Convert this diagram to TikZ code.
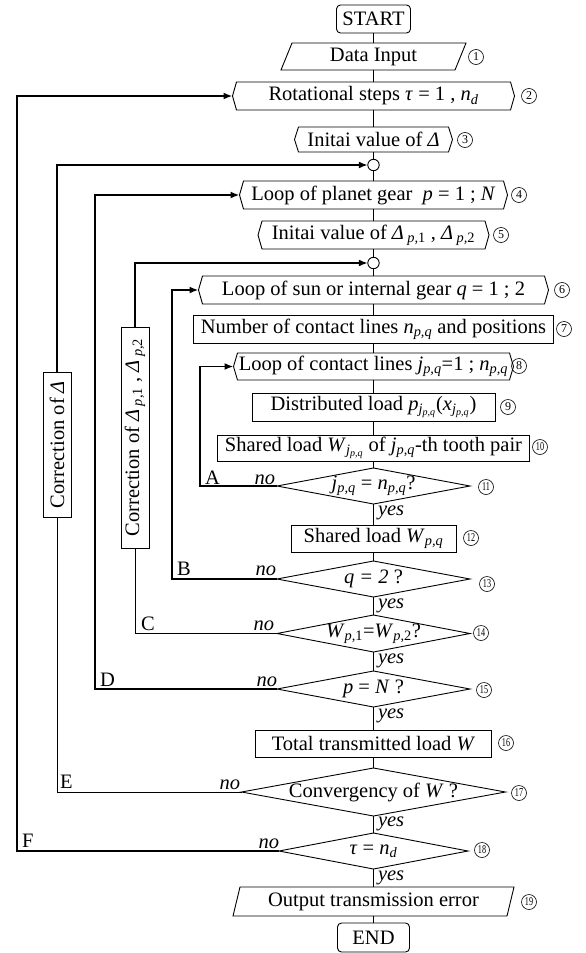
\documentclass[tikz,border=0pt]{standalone}
\usepackage{fontspec}
\usepackage{graphicx}
\setmainfont{Liberation Serif}
\usetikzlibrary{arrows.meta,shapes.geometric}
\newcommand\mi[1]{\textit{#1}}
\newcommand\sbs[1]{\textsubscript{\itshape #1}}
\newcommand\fs{\fontsize{20.5}{24}\selectfont}
\newcommand\dd[1]{\scalebox{0.68}[1]{#1}}
\newcommand\hexdraw[1]{\draw[bord] (#1.north west) -- (#1.north east) -- ([xshift=4pt]#1.east) -- (#1.south east) -- (#1.south west) -- ([xshift=-4pt]#1.west) -- cycle;}
\newcommand\pardraw[2]{\draw[bord] ([xshift=#2]#1.north west) -- ([xshift=#2]#1.north east) -- ([xshift=-#2]#1.south east) -- ([xshift=-#2]#1.south west) -- cycle;}
\tikzset{
  every node/.style={inner sep=0pt, outer sep=0pt, font=\fs},
  bord/.style={line width=0.9pt, line join=miter},
  box/.style={draw, bord, rectangle},
  rbox/.style={draw, bord, rectangle, rounded corners=4pt},
  dia/.style={draw, bord, diamond},
  conn/.style={line width=0.8pt},
  thk/.style={line width=1.9pt},
  arr/.style={-{Latex[length=9pt,width=7pt]}},
  cnum/.style={circle, draw, line width=0.6pt, minimum size=15pt, font=\fontsize{12}{12}\selectfont},
  nolab/.style={anchor=base east, font=\fs\itshape},
  yeslab/.style={anchor=base west, font=\fs\itshape},
  letlab/.style={anchor=base west},
}
\begin{document}
\begin{tikzpicture}[x=1pt,y=-1pt]
\useasboundingbox (0,0) rectangle (586,953);
\def\mx{373.5}
% main column
\node[rbox, minimum width=74pt, minimum height=28pt] (start) at (\mx,19) {START};
\node[minimum width=174pt, minimum height=27pt] (din) at (\mx,56.5) {Data Input};
\pardraw{din}{5.5pt}
\node[minimum width=274pt, minimum height=28pt] (rot) at (\mx,96) {Rotational steps \mi{τ} = 1 , \mi{n}\sbs{d}};
\hexdraw{rot}
\node[minimum width=150pt, minimum height=25pt] (ini) at (\mx,139.5) {Initai value of \mi{Δ}};
\hexdraw{ini}
\node[circle, draw, bord, minimum size=11.4pt] (c1) at (\mx,165) {};
\node[minimum width=260pt, minimum height=28pt] (lp) at (\mx,195) {Loop of planet gear\ \ \mi{p} = 1 ; \mi{N}};
\hexdraw{lp}
\node[minimum width=223pt, minimum height=28pt] (ip) at (\mx,235) {Initai value of \mi{Δ}\,\sbs{p,\upshape 1} , \mi{Δ}\,\sbs{p,\upshape 2}};
\hexdraw{ip}
\node[circle, draw, bord, minimum size=11.4pt] (c2) at (\mx,263) {};
\node[minimum width=342pt, minimum height=28pt] (ls) at (\mx,290) {Loop of sun or internal gear \mi{q} = 1 ; 2};
\hexdraw{ls}
\node[box, minimum width=360pt, minimum height=28pt] (nc) at (\mx,329) {Number of contact lines \mi{n}\sbs{p,q} and positions};
\node[minimum width=272pt, minimum height=27pt] (lc) at (\mx,366.5) {Loop of contact lines \mi{j}\sbs{p,q}=1 ; \mi{n}\sbs{p,q}};
\hexdraw{lc}
\node[box, minimum width=243pt, minimum height=28pt] (dl) at (\mx,407) {Distributed load \mi{p}\sbs{j\sbs{p,q}}(\mi{x}\sbs{j\sbs{p,q}})};
\node[box, minimum width=312pt, minimum height=26pt] (sw) at (\mx,448) {Shared load \mi{W}\sbs{j\sbs{p,q}} of \mi{j}\sbs{p,q}-th tooth pair};
\node[dia, minimum width=193pt, minimum height=36pt] (d11) at (\mx,486) {};
\node (d11t) at (\mx,486) {\mi{j}\sbs{p,q} = \mi{n}\sbs{p,q}?};
\node[box, minimum width=165pt, minimum height=27pt] (swpq) at (\mx,538.5) {Shared load \mi{W}\sbs{p,q}};
\node[dia, minimum width=193pt, minimum height=36pt] (d13) at (\mx,579) {};
\node (d13t) at (\mx,579) {\mi{q = 2} ?};
\node[dia, minimum width=193pt, minimum height=37pt] (d14) at (\mx,633.5) {};
\node (d14t) at (\mx,633.5) {\mi{W}\sbs{p,\upshape 1}=\mi{W}\sbs{p,\upshape 2}?};
\node[dia, minimum width=193pt, minimum height=36pt] (d15) at (\mx,689) {};
\node (d15t) at (\mx,689) {\mi{p} = \mi{N} ?};
\node[box, minimum width=236pt, minimum height=27pt] (tot) at (\mx,743.5) {Total transmitted load \mi{W}};
\node[dia, minimum width=264pt, minimum height=48pt] (d17) at (\mx,792) {};
\node (d17t) at (\mx,792) {Convergency of \mi{W} ?};
\node[dia, minimum width=189pt, minimum height=36pt] (d18) at (\mx,851) {};
\node (d18t) at (\mx,851) {\mi{τ} = \mi{n}\sbs{d}};
\node[minimum width=274pt, minimum height=29pt] (out) at (\mx,901.5) {Output transmission error};
\pardraw{out}{3.5pt}
\node[rbox, minimum width=72pt, minimum height=29pt] (end) at (\mx,937.5) {END};

% correction boxes
\node[box, minimum width=28pt, minimum height=145pt] (cbE) at (57,444.5) {};
\node[rotate=90] (cbEt) at (57,444.5) {Correction of \mi{Δ}};
\node[box, minimum width=28pt, minimum height=221pt] (cbC) at (135,437.5) {};
\node[rotate=90] (cbCt) at (135,437.5) {Correction of \mi{Δ}\,\sbs{p,\upshape 1} , \mi{Δ}\,\sbs{p,\upshape 2}};

% main vertical connectors
\foreach \a/\b in {start/din, din/rot, rot/ini, ini/c1, c1/lp, lp/ip, ip/c2, c2/ls, ls/nc, nc/lc, lc/dl, dl/sw, sw/d11, d11/swpq, swpq/d13, d13/d14, d14/d15, d15/tot, tot/d17, d17/d18, d18/out, out/end}
  \draw[conn] (\a.south) -- (\b.north);

% tips
\coordinate (rotL) at ([xshift=-4pt]rot.west);
\coordinate (lpL) at ([xshift=-4pt]lp.west);
\coordinate (lsL) at ([xshift=-4pt]ls.west);
\coordinate (lcL) at ([xshift=-4pt]lc.west);
\coordinate (fx) at (17,0);
\coordinate (dx) at (95,0);
\coordinate (bx) at (172,0);
\coordinate (ax) at (200,0);

% loops
\draw[thk,arr] (d11.west) -- (d11.west -| ax) -- (ax |- lcL) -- (lcL);
\draw[thk,arr] (d13.west) -- (d13.west -| bx) -- (bx |- lsL) -- (lsL);
\draw[conn] (d14.west) -| (cbC.south);
\draw[thk,arr] (cbC.north) -- (cbC.north |- c2) -- (c2.west);
\draw[thk,arr] (d15.west) -- (d15.west -| dx) -- (dx |- lpL) -- (lpL);
\draw[conn] (d17.west) -| (cbE.south);
\draw[thk,arr] (cbE.north) -- (cbE.north |- c1) -- (c1.west);
\draw[thk,arr] (d18.west) -- (d18.west -| fx) -- (fx |- rotL) -- (rotL);

% no labels
\node[nolab] (no11) at (275,484) {no};
\node[nolab] (no13) at (276,575) {no};
\node[nolab] (no14) at (274,630) {no};
\node[nolab] (no15) at (277,686) {no};
\node[nolab] (no17) at (240,789) {no};
\node[nolab] (no18) at (279,848) {no};
% letters
\node[letlab] (lA) at (205,484) {A};
\node[letlab] (lB) at (177,575) {B};
\node[letlab] (lC) at (141,630) {C};
\node[letlab] (lD) at (100,686) {D};
\node[letlab] (lE) at (60,788) {E};
\node[letlab] (lF) at (22,847) {F};
% yes labels
\node[yeslab] (y11) at (378,515) {yes};
\node[yeslab] (y13) at (378,608) {yes};
\node[yeslab] (y14) at (378,663) {yes};
\node[yeslab] (y15) at (378,718) {yes};
\node[yeslab] (y17) at (378,826) {yes};
\node[yeslab] (y18) at (378,880) {yes};

% step numbers
\node[cnum] (n1) at (476,57) {1};
\node[cnum] (n2) at (529,96) {2};
\node[cnum] (n3) at (465,140) {3};
\node[cnum] (n4) at (519,195) {4};
\node[cnum] (n5) at (501,235) {5};
\node[cnum] (n6) at (562,290) {6};
\node[cnum] (n7) at (564,329) {7};
\node[cnum] (n8) at (519,366) {8};
\node[cnum] (n9) at (508,407) {9};
\node[cnum] (n10) at (540,447) {\dd{10}};
\node[cnum] (n11) at (486,487) {\dd{11}};
\node[cnum] (n12) at (471,538) {\dd{12}};
\node[cnum] (n13) at (487,584) {\dd{13}};
\node[cnum] (n14) at (481,633) {\dd{14}};
\node[cnum] (n15) at (484,690) {\dd{15}};
\node[cnum] (n16) at (506,743) {\dd{16}};
\node[cnum] (n17) at (519,793) {\dd{17}};
\node[cnum] (n18) at (482,850) {\dd{18}};
\node[cnum] (n19) at (529,902) {\dd{19}};
\end{tikzpicture}
\end{document}
